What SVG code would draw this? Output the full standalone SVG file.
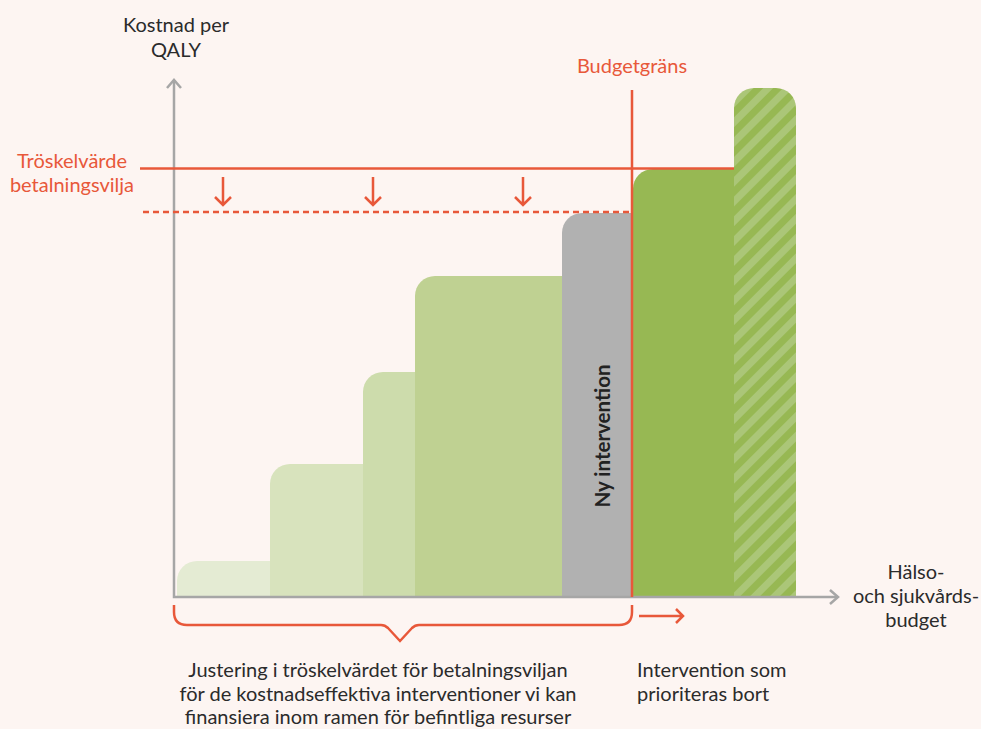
<svg xmlns="http://www.w3.org/2000/svg" width="981" height="729" viewBox="0 0 981 729">
  <defs>
    <pattern id="hatch" patternUnits="userSpaceOnUse" width="14" height="14" patternTransform="rotate(45)">
      <rect x="0" y="0" width="14" height="14" fill="#97b853"/>
      <rect x="0" y="0" width="7" height="14" fill="#abc678"/>
    </pattern>
    <style>
      .t { font-family: Lato, "Liberation Sans", sans-serif; font-size: 20px; fill: #2b2b2b; }
      .o { font-family: Lato, "Liberation Sans", sans-serif; font-size: 20px; fill: #e8583a; }
      .axis { stroke: #a6a6a6; stroke-width: 2.5; fill: none; }
      .or { stroke: #e8583a; stroke-width: 2.5; fill: none; }
      .bold { font-weight: bold; font-size: 20.5px; fill: #222; }
    </style>
  </defs>
  <rect width="981" height="729" fill="#fdf5f2"/>

  <g id="bars">
    <g id="bar1"><path d="M177,596 V581 A20,20 0 0 1 197,561 H270 V596 Z" fill="#e4ebd3"/></g>
    <g id="bar2"><path d="M270,596 V484 A20,20 0 0 1 290,464 H363 V596 Z" fill="#d8e3bd"/></g>
    <g id="bar3"><path d="M363,596 V392 A20,20 0 0 1 383,372 H415 V596 Z" fill="#cddcac"/></g>
    <g id="bar4"><path d="M415,596 V296 A20,20 0 0 1 435,276 H562 V596 Z" fill="#bfd192"/></g>
    <g id="bar5"><path d="M562,596 V233 A20,20 0 0 1 582,213 H632 V596 Z" fill="#b1b1b1"/>
      <text class="t bold" transform="translate(610,436) rotate(-90)" text-anchor="middle">Ny intervention</text>
    </g>
    <g id="bar6"><path d="M633,596 V189 A20,20 0 0 1 653,169 H734 V596 Z" fill="#97b853"/></g>
    <g id="bar7"><path d="M734,596 V108 A20,20 0 0 1 754,88 H776 A20,20 0 0 1 796,108 V596 Z" fill="url(#hatch)"/></g>
  </g>

  <g id="connectors">
    <!-- axes -->
    <path class="axis" d="M174,80 V597 H838"/>
    <path class="axis" d="M167,88 L174,80 L181,88"/>
    <path class="axis" d="M830,590 L838,597 L830,604"/>
    <!-- threshold -->
    <path class="or" d="M140,168.5 H734"/>
    <path class="or" d="M143,212 H631" stroke-dasharray="6 4"/>
    <!-- budget line -->
    <path class="or" d="M632,90 V597"/>
    <!-- down arrows -->
    <path class="or" d="M223,177 V205 M215,197 L223,205 L231,197"/>
    <path class="or" d="M373,177 V205 M365,197 L373,205 L381,197"/>
    <path class="or" d="M523,177 V205 M515,197 L523,205 L531,197"/>
    <!-- brace -->
    <path class="or" d="M174,605 V612 Q174,625 187,625 H381 Q385,625 388,628 L400,641 L412,628 Q415,625 419,625 H619 Q632,625 632,612 V605"/>
    <!-- right arrow -->
    <path class="or" d="M639,616 H683 M676,609 L683,616 L676,623"/>
  </g>

  <g id="labels">
    <text class="t" x="176" y="32" text-anchor="middle">Kostnad per</text>
    <text class="t" x="176" y="57" text-anchor="middle">QALY</text>
    <text class="o" x="72" y="168" text-anchor="middle">Tröskelvärde</text>
    <text class="o" x="72" y="192" text-anchor="middle">betalningsvilja</text>
    <text class="o" x="632" y="73" text-anchor="middle">Budgetgräns</text>
    <text class="t" x="916" y="579" text-anchor="middle">Hälso-</text>
    <text class="t" x="916" y="603" text-anchor="middle">och sjukvårds-</text>
    <text class="t" x="916" y="627" text-anchor="middle">budget</text>
    <text class="t" x="637" y="677">Intervention som</text>
    <text class="t" x="637" y="701">prioriteras bort</text>
    <text class="t" x="378" y="677" text-anchor="middle">Justering i tröskelvärdet för betalningsviljan</text>
    <text class="t" x="378" y="701" text-anchor="middle">för de kostnadseffektiva interventioner vi kan</text>
    <text class="t" x="378" y="724" text-anchor="middle">finansiera inom ramen för befintliga resurser</text>
  </g>
</svg>
